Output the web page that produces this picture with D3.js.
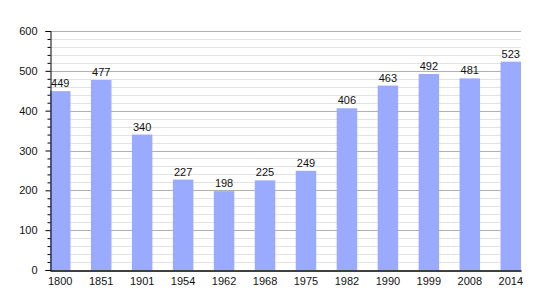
<!DOCTYPE html>
<html>
<head>
<meta charset="utf-8">
<script src="https://cdn.jsdelivr.net/npm/d3@7"></script>
<style>
  body { margin: 0; background: #fff; }
  text { font-family: "Liberation Sans", Arial, sans-serif; }
</style>
</head>
<body>
<div id="chart"></div>
<script>
// data
var years = ["1800", "1851", "1901", "1954", "1962", "1968", "1975", "1982", "1990", "1999", "2008", "2014"];
var population = [449, 477, 340, 227, 198, 225, 249, 406, 463, 492, 481, 523];
var yTicks = [0, 100, 200, 300, 400, 500, 600];

var svgWidth = 550;
var svgHeight = 300;

var margin = { top: 31, right: 29, bottom: 30, left: 50 };
var width = svgWidth - margin.left - margin.right;
var height = svgHeight - margin.top - margin.bottom;

var svg = d3.select("#chart")
  .append("svg")
  .attr("width", svgWidth)
  .attr("height", svgHeight);

var chartGroup = svg.append("g")
  .attr("transform", `translate(${margin.left}, ${margin.top})`);

var xScale = d3.scaleBand()
  .domain(years)
  .range([0, width])
  .paddingInner(0.5)
  .paddingOuter(0);

var yScale = d3.scaleLinear()
  .domain([0, 600])
  .range([height, 0]);

// minor gridlines every 20
var minor = d3.range(20, 600, 20).filter(d => d % 100 !== 0);
chartGroup.selectAll(".minor")
  .data(minor)
  .enter()
  .append("line")
  .attr("x1", 0)
  .attr("x2", width)
  .attr("y1", d => Math.round(yScale(d)) + 0.5)
  .attr("y2", d => Math.round(yScale(d)) + 0.5)
  .attr("stroke", "#e2e2e2");

// major gridlines
chartGroup.selectAll(".major")
  .data(yTicks.slice(1))
  .enter()
  .append("line")
  .attr("x1", 0)
  .attr("x2", width)
  .attr("y1", d => Math.round(yScale(d)) + 0.5)
  .attr("y2", d => Math.round(yScale(d)) + 0.5)
  .attr("stroke", "#b0b0b0");

// bars
chartGroup.selectAll("rect")
  .data(population)
  .enter()
  .append("rect")
  .attr("x", (d, i) => xScale(years[i]))
  .attr("y", d => yScale(d))
  .attr("width", xScale.bandwidth())
  .attr("height", d => height - yScale(d))
  .attr("fill", "#99aaff");

// value labels
chartGroup.selectAll(".val")
  .data(population)
  .enter()
  .append("text")
  .attr("x", (d, i) => xScale(years[i]) + xScale.bandwidth() / 2)
  .attr("y", d => yScale(d) - 4)
  .attr("text-anchor", "middle")
  .attr("font-size", 11)
  .attr("fill", "#111")
  .text(d => d);

// y axis with major ticks
var leftAxis = d3.axisLeft(yScale)
  .tickValues(yTicks)
  .tickSize(5)
  .tickPadding(8);

var yAxis = chartGroup.append("g")
  .attr("transform", "translate(0.5,0)")
  .call(leftAxis);
yAxis.select(".domain").attr("stroke", "#000");
yAxis.selectAll(".tick line").attr("stroke", "#000");
yAxis.selectAll("text")
  .attr("font-size", 11)
  .attr("fill", "#111")
  .style("font-family", "'Liberation Sans', Arial, sans-serif");

// minor ticks
var minorAxis = d3.axisLeft(yScale)
  .tickValues(minor)
  .tickSize(3)
  .tickFormat("");
var yMinor = chartGroup.append("g")
  .attr("transform", "translate(0.5,0)")
  .call(minorAxis);
yMinor.select(".domain").remove();
yMinor.selectAll(".tick line").attr("stroke", "#000");

// x axis
var bottomAxis = d3.axisBottom(xScale)
  .tickSize(0)
  .tickPadding(7);

var xAxis = chartGroup.append("g")
  .attr("transform", `translate(0, ${height + 0.5})`)
  .call(bottomAxis);
xAxis.select(".domain").attr("stroke", "#000").attr("stroke-width", 1.5);
xAxis.selectAll("text")
  .attr("font-size", 11)
  .attr("fill", "#111")
  .style("font-family", "'Liberation Sans', Arial, sans-serif");
</script>
</body>
</html>
